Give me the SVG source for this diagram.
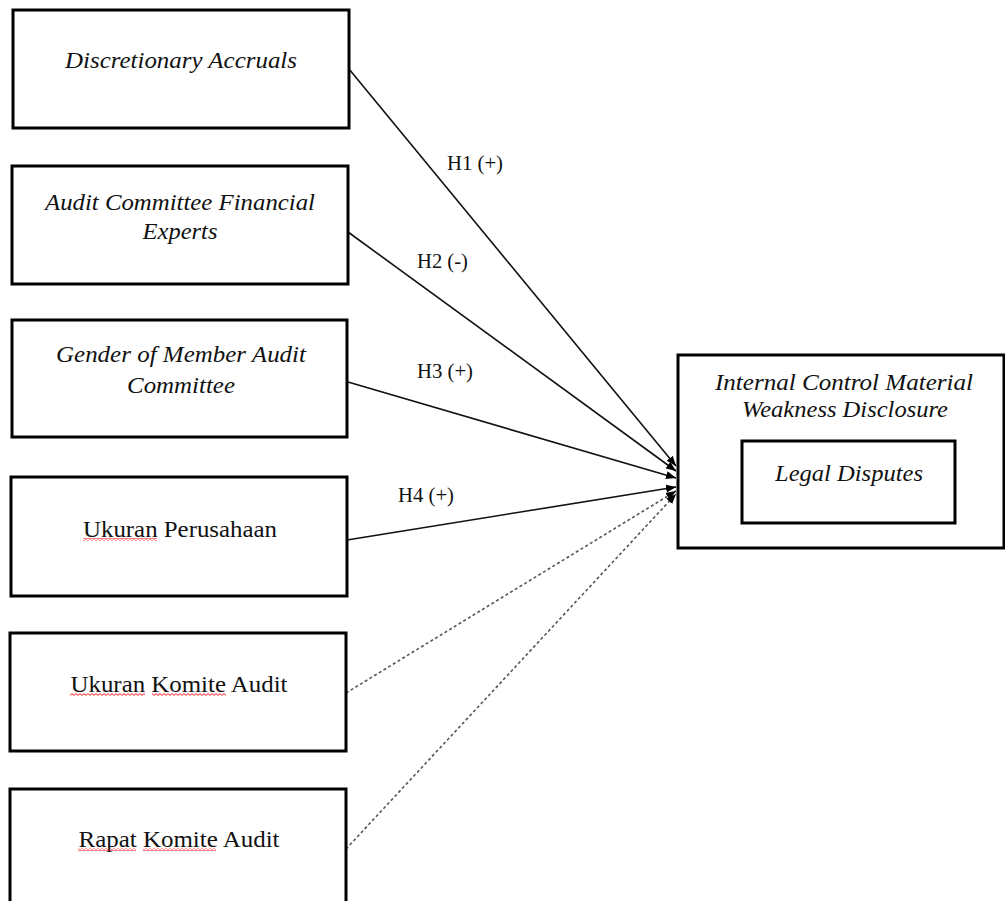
<svg xmlns="http://www.w3.org/2000/svg" width="1005" height="901" viewBox="0 0 1005 901">
<style>
.box{fill:#fff;stroke:#000;stroke-width:3}
.it{font-family:"Liberation Serif","Times New Roman",serif;font-style:italic;font-size:23px;fill:#111;text-anchor:middle}
.rm{font-family:"Liberation Serif","Times New Roman",serif;font-size:24px;fill:#111;text-anchor:middle}
.lbl{font-family:"Liberation Serif","Times New Roman",serif;font-size:20px;fill:#111}
.solid{fill:none;stroke:#111;stroke-width:1.6}
.dash{fill:none;stroke:#555;stroke-width:1.6;stroke-dasharray:3 2.5}
.sq{fill:url(#wave)}
</style>
<defs>
<marker id="arr" viewBox="0 0 10 8" refX="10" refY="4" markerWidth="10" markerHeight="8" markerUnits="userSpaceOnUse" orient="auto">
<path d="M0 0 L10 4 L0 8 Z" fill="#000"/>
</marker>
<pattern id="wave" patternUnits="userSpaceOnUse" width="4" height="3">
<path d="M0 0.6 L2 2.4 L4 0.6" fill="none" stroke="#e00" stroke-width="0.9"/>
</pattern>
</defs>
<g id="connectors">
<line class="solid" x1="349" y1="69" x2="676" y2="466" marker-end="url(#arr)"/>
<line class="solid" x1="348" y1="232" x2="676" y2="471" marker-end="url(#arr)"/>
<line class="solid" x1="348" y1="382" x2="676" y2="478" marker-end="url(#arr)"/>
<line class="solid" x1="347" y1="540" x2="676" y2="487" marker-end="url(#arr)"/>
<line class="dash" x1="346" y1="693" x2="676" y2="491" marker-end="url(#arr)"/>
<line class="dash" x1="346" y1="849" x2="676" y2="494" marker-end="url(#arr)"/>
<text class="lbl" x="447" y="170" textLength="56" lengthAdjust="spacingAndGlyphs">H1 (+)</text>
<text class="lbl" x="417" y="268" textLength="51" lengthAdjust="spacingAndGlyphs">H2 (-)</text>
<text class="lbl" x="417" y="378" textLength="56" lengthAdjust="spacingAndGlyphs">H3 (+)</text>
<text class="lbl" x="398" y="502" textLength="56" lengthAdjust="spacingAndGlyphs">H4 (+)</text>
</g>
<g id="n1">
<rect class="box" x="13" y="10" width="336" height="118"/>
<text class="it" x="181" y="68" textLength="232" lengthAdjust="spacingAndGlyphs">Discretionary Accruals</text>
</g>
<g id="n2">
<rect class="box" x="12" y="166" width="336" height="118"/>
<text class="it" x="180" y="210" textLength="270" lengthAdjust="spacingAndGlyphs">Audit Committee Financial</text>
<text class="it" x="180" y="239" textLength="75" lengthAdjust="spacingAndGlyphs">Experts</text>
</g>
<g id="n3">
<rect class="box" x="12" y="320" width="335" height="117"/>
<text class="it" x="181" y="362" textLength="250" lengthAdjust="spacingAndGlyphs">Gender of Member Audit</text>
<text class="it" x="181" y="393" textLength="108" lengthAdjust="spacingAndGlyphs">Committee</text>
</g>
<g id="n4">
<rect class="box" x="11" y="477" width="336" height="119"/>
<text class="rm" x="180" y="537" textLength="194" lengthAdjust="spacingAndGlyphs">Ukuran Perusahaan</text>
<rect class="sq" x="83" y="538" width="74" height="3"/>
</g>
<g id="n5">
<rect class="box" x="10" y="633" width="336" height="118"/>
<text class="rm" x="179" y="692" textLength="217" lengthAdjust="spacingAndGlyphs">Ukuran Komite Audit</text>
<rect class="sq" x="70" y="693" width="75" height="3"/>
<rect class="sq" x="152" y="693" width="74" height="3"/>
</g>
<g id="n6">
<rect class="box" x="10" y="789" width="336" height="130"/>
<text class="rm" x="179" y="847" textLength="201" lengthAdjust="spacingAndGlyphs">Rapat Komite Audit</text>
<rect class="sq" x="78" y="848" width="58" height="3"/>
<rect class="sq" x="143" y="848" width="73" height="3"/>
</g>
<g id="target">
<rect class="box" x="678" y="355" width="326" height="193"/>
<text class="it" x="844" y="390" textLength="258" lengthAdjust="spacingAndGlyphs">Internal Control Material</text>
<text class="it" x="845" y="417" textLength="206" lengthAdjust="spacingAndGlyphs">Weakness Disclosure</text>
<g id="inner">
<rect class="box" x="742" y="441" width="213" height="82"/>
<text class="it" x="849" y="481" textLength="148" lengthAdjust="spacingAndGlyphs">Legal Disputes</text>
</g>
</g>
</svg>
